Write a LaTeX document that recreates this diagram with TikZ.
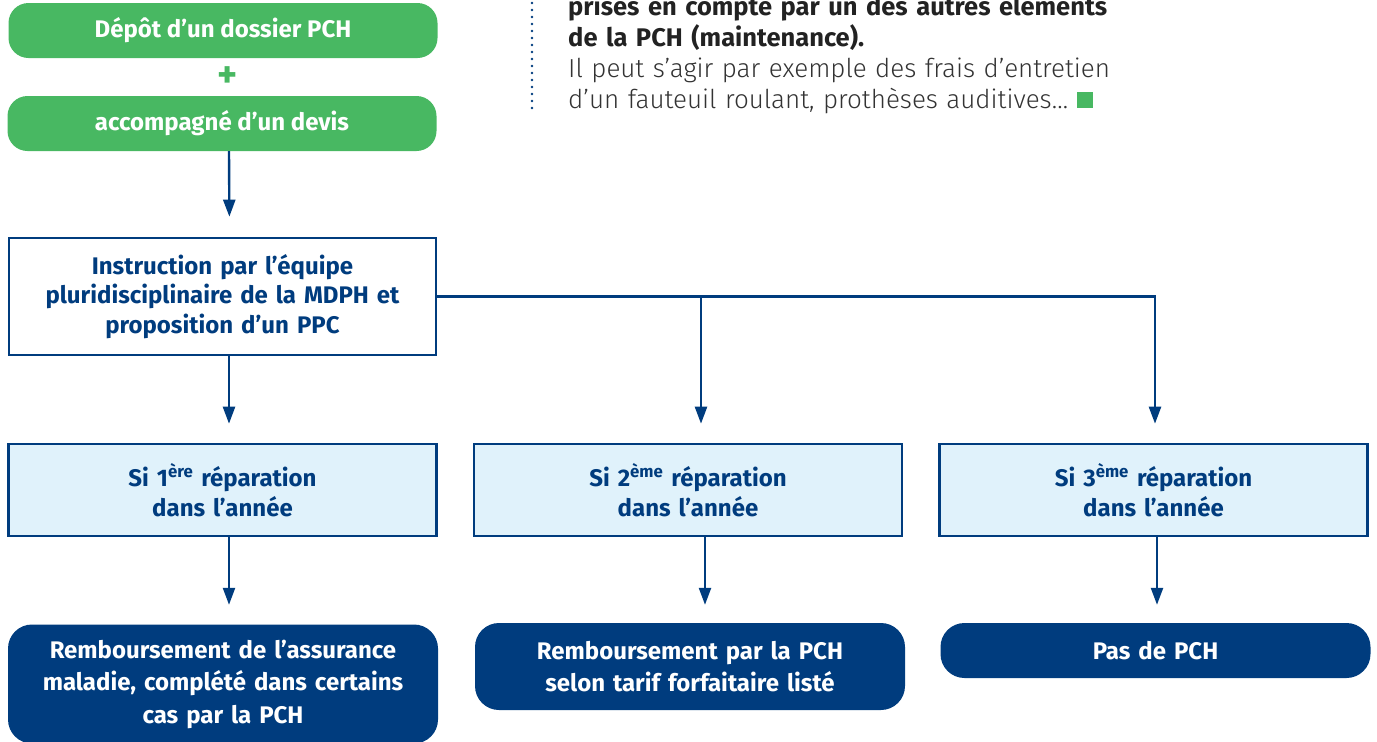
\documentclass[tikz,border=0pt]{standalone}
\usepackage{fontspec}
\setmainfont{Fira Sans}
\newfontfamily\lightfont{Fira Sans Light}
\usetikzlibrary{positioning,arrows.meta}

\definecolor{pchgreen}{HTML}{48B862}
\definecolor{pchblue}{HTML}{003C7E}
\definecolor{pchlight}{HTML}{E0F2FB}
\definecolor{pchdark}{HTML}{222222}
\definecolor{pchgrey}{HTML}{333333}

\begin{document}
\begin{tikzpicture}[%
    x=1pt, y=-1pt,
    >={Triangle[width=12pt,length=17pt]},
    font=\fontsize{24}{29.5}\selectfont\bfseries,
    start/.style={fill=pchgreen, text=white, rounded corners=20pt,
      minimum width=429pt, minimum height=55pt, inner sep=0pt},
    instr/.style={draw=pchblue, line width=2.6pt, fill=white, text=pchblue,
      text width=427pt, minimum height=117pt, inner sep=0pt, align=center},
    choice/.style={draw=pchblue, line width=2.6pt, fill=pchlight, text=pchblue,
      text width=428pt, minimum height=92pt, inner sep=0pt, align=center},
    result/.style={fill=pchblue, text=white, rounded corners=24pt,
      text width=430pt, inner sep=0pt, align=center,
      font=\fontsize{24}{32.5}\selectfont\bfseries},
    link/.style={->, pchblue, line width=2.4pt}
  ]
    \useasboundingbox (0,0) rectangle (1377,742);

    % demande
    \node[start] (dep) at (223,30.5) {Dépôt d’un dossier PCH};
    \node[text=pchgreen, font=\fontsize{38}{38}\selectfont\bfseries] (plus) at (228,77) {+};
    \node[start] (devis) at (222,123.5) {accompagné d’un devis};

    % instruction
    \node[instr] (instr) at (222.5,296.5)
      {Instruction par l’équipe\\pluridisciplinaire de la MDPH et\\proposition d’un PPC};

    % cas
    \node[choice] (c1) at (222.5,490) {Si 1\textsuperscript{ère} réparation\\dans l’année};
    \node[choice] (c2) at (688,490) {Si 2\textsuperscript{ème} réparation\\dans l’année};
    \node[choice] (c3) at (1153.5,490) {Si 3\textsuperscript{ème} réparation\\dans l’année};

    % decisions
    \node[result, minimum height=119pt] (r1) at (223,684)
      {Remboursement de l’assurance\\maladie, complété dans certains\\cas par la PCH};
    \node[result, minimum height=87pt] (r2) at (690,666.5)
      {Remboursement par la PCH\\selon tarif forfaitaire listé};
    \node[result, minimum height=55pt] (r3) at (1155.5,650.5) {Pas de PCH};

    \draw[link, shorten >=20pt] ([xshift=7pt]devis.south) -- ([xshift=7pt]instr.north);
    \draw[link, shorten >=19pt] ([xshift=6.5pt]instr.south) -- ([xshift=6.5pt]c1.north);
    \draw[link, shorten >=19pt] (instr.east) -| ([xshift=13pt]c2.north);
    \draw[link, shorten >=19pt] (instr.east) -| ([xshift=1.5pt]c3.north);
    \draw[link, shorten >=19.5pt] ([xshift=6.5pt]c1.south) -- ([xshift=6pt]r1.north);
    \draw[link, shorten >=18pt] ([xshift=17pt]c2.south) -- ([xshift=15pt]r2.north);
    \draw[link, shorten >=18pt] ([xshift=3.5pt]c3.south) -- ([xshift=1.5pt]r3.north);

    % encadre
    \coordinate (top) at (532,-4);
    \coordinate (bot) at (532,115);
    \draw[pchblue, line width=2.6pt, line cap=round, dash pattern=on 0pt off 7pt] (top) -- (bot);
    \node[anchor=base west, text width=620pt, align=left, inner sep=0pt,
      font=\fontsize{25.5}{31}\selectfont] (note) at (568,15)
      {\color{pchdark}\bfseries prises en compte par un des autres éléments\\
       \color{pchdark}\bfseries de la PCH (maintenance).\\
       \color{pchgrey}\lightfont\mdseries\fontsize{26}{31}\selectfont Il peut s’agir par exemple des frais d’entretien\\
       \color{pchgrey}\lightfont\mdseries\fontsize{26}{31}\selectfont d’un fauteuil roulant, prothèses auditives…\ \textcolor{pchgreen}{\rule{16pt}{16pt}}};
  \end{tikzpicture}
\end{document}
